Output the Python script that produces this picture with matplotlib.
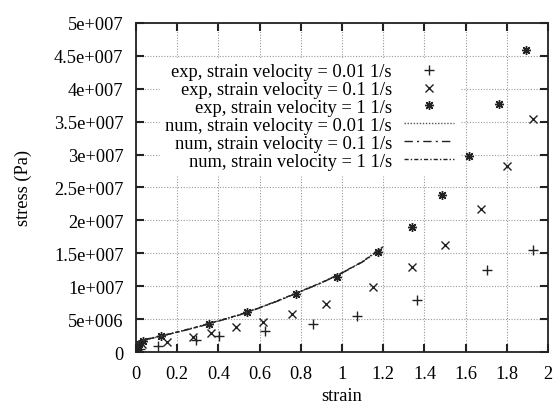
import numpy as np
import matplotlib
matplotlib.use("Agg")
import matplotlib.pyplot as plt

plt.rcParams['font.family'] = ['Liberation Serif', 'DejaVu Serif']
plt.rcParams['font.size'] = 13.2

# experimental data, strain velocity 0.01 1/s
exp001_strain = [0.0, 0.02, 0.108, 0.291, 0.405, 0.626, 0.857, 1.071, 1.363, 1.702, 1.926]
exp001_stress = [0.0, 4.0e5, 9.6e5, 1.87e6, 2.48e6, 3.24e6, 4.26e6, 5.4e6, 7.95e6, 1.24e7, 1.555e7]

# experimental data, strain velocity 0.1 1/s
exp01_strain = [0.0, 0.01, 0.03, 0.152, 0.278, 0.364, 0.485, 0.615, 0.759, 0.922, 1.152,
                1.34, 1.502, 1.673, 1.803, 1.926]
exp01_stress = [0.0, 7.0e5, 1.2e6, 1.57e6, 2.23e6, 2.9e6, 3.75e6, 4.6e6, 5.8e6, 7.3e6, 9.9e6,
                1.29e7, 1.62e7, 2.18e7, 2.83e7, 3.54e7]

# experimental data, strain velocity 1 1/s
exp1_strain = [0.0, 0.005, 0.015, 0.035, 0.12, 0.356, 0.54, 0.777, 0.974, 1.173,
               1.34, 1.484, 1.615, 1.764, 1.893]
exp1_stress = [0.0, 6.0e5, 1.2e6, 1.72e6, 2.38e6, 4.26e6, 6.1e6, 8.8e6, 1.145e7, 1.515e7,
               1.90e7, 2.38e7, 2.98e7, 3.77e7, 4.59e7]

# numerical curves (they overlap almost completely)
num_strain = [0.0, 0.005, 0.02, 0.1, 0.2, 0.3, 0.4, 0.5, 0.6, 0.7, 0.8, 0.9, 1.0, 1.1, 1.2]
num001_stress = [0.0, 1.2e6, 1.7e6, 2.25e6, 3.0e6, 3.8e6, 4.7e6, 5.6e6, 6.7e6, 7.9e6, 9.2e6,
                 1.05e7, 1.2e7, 1.37e7, 1.59e7]
num01_stress = [0.0, 1.2e6, 1.7e6, 2.25e6, 3.0e6, 3.8e6, 4.7e6, 5.6e6, 6.7e6, 7.9e6, 9.2e6,
                1.05e7, 1.2e7, 1.37e7, 1.59e7]
num1_stress = [0.0, 1.2e6, 1.75e6, 2.3e6, 3.05e6, 3.85e6, 4.75e6, 5.65e6, 6.75e6, 7.95e6, 9.25e6,
               1.055e7, 1.205e7, 1.375e7, 1.6e7]

xticks = [0, 0.2, 0.4, 0.6, 0.8, 1, 1.2, 1.4, 1.6, 1.8, 2]
xticklabels = ["0", "0.2", "0.4", "0.6", "0.8", "1", "1.2", "1.4", "1.6", "1.8", "2"]
yticks = [0, 5e6, 1e7, 1.5e7, 2e7, 2.5e7, 3e7, 3.5e7, 4e7, 4.5e7, 5e7]
yticklabels = ["0", "5e+006", "1e+007", "1.5e+007", "2e+007", "2.5e+007",
               "3e+007", "3.5e+007", "4e+007", "4.5e+007", "5e+007"]

fig = plt.figure(figsize=(5.53, 4.06), dpi=100)
ax = fig.add_axes([0.2459, 0.1305, 0.745, 0.8105])

ink = '#222222'
ax.plot(exp001_strain, exp001_stress, linestyle='none', marker='+', ms=6.5, mew=1.0,
        color=ink, label='exp, strain velocity = 0.01 1/s')
ax.plot(exp01_strain, exp01_stress, linestyle='none', marker='x', ms=5.5, mew=1.0,
        color=ink, label='exp, strain velocity = 0.1 1/s')
ax.plot(exp1_strain, exp1_stress, linestyle='none', marker=(8, 2, 0), ms=6.5, mew=1.0,
        color=ink, label='exp, strain velocity = 1 1/s')
ax.plot(num_strain, num001_stress, linestyle=(0, (1, 1.2)), lw=1.0, color='#555555',
        label='num, strain velocity = 0.01 1/s')
ax.plot(num_strain, num01_stress, linestyle=(0, (6, 3, 1.5, 3)), lw=1.0, color=ink,
        label='num, strain velocity = 0.1 1/s')
ax.plot(num_strain, num1_stress, linestyle=(0, (3, 1.5, 1, 1.5)), lw=1.0, color=ink,
        label='num, strain velocity = 1 1/s')

ax.set_xlim(0, 2)
ax.set_ylim(0, 5e7)
ax.set_xticks(xticks)
ax.set_xticklabels(xticklabels)
ax.set_yticks(yticks)
ax.set_yticklabels(yticklabels)
ax.tick_params(direction='in', length=6, width=1.5, top=True, right=True, color='#222222')
ax.tick_params(axis='x', pad=9)
ax.tick_params(axis='y', pad=9)
ax.grid(True, linestyle=(0, (1, 1.5)), color='#999999', lw=0.8)
for s in ax.spines.values():
    s.set_linewidth(1.3)
    s.set_color('#222222')

ax.set_xlabel('strain', labelpad=4)
ax.set_ylabel('stress (Pa)', labelpad=16)

leg = ax.legend(loc='upper right', bbox_to_anchor=(0.785, 0.895), markerfirst=False,
                frameon=True, fancybox=False, framealpha=1, edgecolor='white',
                facecolor='white', handlelength=2.7, handletextpad=0.65,
                labelspacing=0.05, borderpad=0.3, borderaxespad=0,
                prop={'size': 13.3})
leg.set_zorder(5)

fig.savefig('out.png', dpi=100)
